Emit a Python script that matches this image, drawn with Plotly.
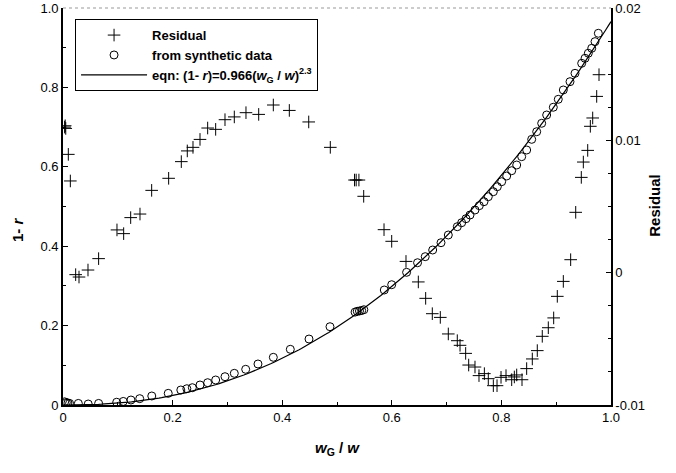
import numpy as np
import plotly.graph_objects as go

# Residual series (right axis)
res_x = [0.003, 0.004, 0.005, 0.0097, 0.0134, 0.0231, 0.0292, 0.0456, 0.065, 0.0985,
         0.1107, 0.1235, 0.1405, 0.1618, 0.1928, 0.2159, 0.2268, 0.2372, 0.25, 0.264,
         0.2786, 0.2956, 0.3126, 0.3339, 0.3571, 0.3838, 0.413, 0.4484, 0.4878, 0.532,
         0.535, 0.540, 0.5487, 0.5858, 0.5998, 0.6259, 0.6484, 0.6618, 0.6739, 0.6885,
         0.7031, 0.7195, 0.7245, 0.7348, 0.7403, 0.7518, 0.7591, 0.7689, 0.7761, 0.7853,
         0.792, 0.7993, 0.8084, 0.8188, 0.8236, 0.8279, 0.8376, 0.8461, 0.8564, 0.8655,
         0.8746, 0.8856, 0.8954, 0.902, 0.913, 0.9264, 0.9356, 0.9458, 0.9495, 0.9575,
         0.9623, 0.9666, 0.9739, 0.9781]
res_y = [0.0110, 0.0111, 0.0109, 0.00894, 0.00693, -0.00015, -0.00033, 0.0002, 0.00106, 0.00323,
         0.00295, 0.00416, 0.00443, 0.00622, 0.00713, 0.00839, 0.0092, 0.00947, 0.01007, 0.01093,
         0.01083, 0.01156, 0.01177, 0.01209, 0.01196, 0.01267, 0.01226, 0.01139, 0.00947, 0.0070,
         0.0070, 0.0070, 0.00577, 0.00325, 0.00237, 0.00085, -0.0007, -0.00194, -0.0031, -0.00338,
         -0.00463, -0.00514, -0.00549, -0.0061, -0.00698, -0.00713, -0.00778, -0.00763, -0.00801, -0.00854,
         -0.00854, -0.00791, -0.00778, -0.00809, -0.00788, -0.00773, -0.00809, -0.00725, -0.00652, -0.00589,
         -0.00481, -0.00416, -0.00342, -0.00179, -0.00066, 0.00098, 0.00456, 0.0072, 0.00836, 0.00924,
         0.01106, 0.01169, 0.01332, 0.01496]

# Synthetic data (left axis)
syn_x = [0.003, 0.006, 0.009, 0.012, 0.028, 0.046, 0.065, 0.098, 0.11, 0.124,
         0.14, 0.162, 0.192, 0.215, 0.226, 0.236, 0.25, 0.264, 0.2786, 0.2956,
         0.3126, 0.3334, 0.3558, 0.3838, 0.4148, 0.4489, 0.4872, 0.533, 0.537, 0.541,
         0.545, 0.549, 0.5863, 0.5998, 0.627, 0.647, 0.661, 0.6746, 0.6898, 0.7031,
         0.7195, 0.7275, 0.7354, 0.7427, 0.7518, 0.7597, 0.7682, 0.7761, 0.7853, 0.7926,
         0.8005, 0.8096, 0.8188, 0.8279, 0.837, 0.8461, 0.8553, 0.8644, 0.8735, 0.8826,
         0.8947, 0.9038, 0.913, 0.9252, 0.9343, 0.9465, 0.9526, 0.9586, 0.9648, 0.9708,
         0.9769]
syn_y = [0.008, 0.006, 0.005, 0.004, 0.004, 0.0025, 0.004, 0.007, 0.009, 0.0126,
         0.016, 0.0227, 0.0294, 0.0378, 0.041, 0.0436, 0.0504, 0.0562, 0.063, 0.0713,
         0.0798, 0.0899, 0.1033, 0.1201, 0.1403, 0.1662, 0.1972, 0.234, 0.236, 0.2368,
         0.238, 0.240, 0.2897, 0.303, 0.3342, 0.3584, 0.3736, 0.3904, 0.4088, 0.4282,
         0.4491, 0.4592, 0.4693, 0.4786, 0.4912, 0.5021, 0.5121, 0.5247, 0.5373, 0.5499,
         0.5625, 0.5768, 0.5902, 0.6045, 0.6255, 0.6423, 0.6692, 0.6884, 0.7096, 0.7305,
         0.75, 0.77, 0.7935, 0.8144, 0.8355, 0.8607, 0.8733, 0.886, 0.8985, 0.9153,
         0.9363]

# Fit equation from the legend: (1-r) = 0.966 (wG/w)^2.3
eqn_coef = 0.966
eqn_exp = 2.3
eqn_x = np.linspace(0, 1, 201)
eqn_y = eqn_coef * eqn_x ** eqn_exp

x_ticks = [0, 0.2, 0.4, 0.6, 0.8, 1.0]
x_tick_labels = ["0", "0.2", "0.4", "0.6", "0.8", "1.0"]
y_ticks = [0, 0.2, 0.4, 0.6, 0.8, 1.0]
y_tick_labels = ["0", "0.2", "0.4", "0.6", "0.8", "1.0"]
y2_ticks = [-0.01, 0, 0.01, 0.02]
y2_tick_labels = ["-0.01", "0", "0.01", "0.02"]

FONT = "Liberation Sans, Arial, sans-serif"

fig = go.Figure()
fig.add_trace(go.Scatter(
    x=res_x, y=res_y, mode="markers", name="Residual", yaxis="y2",
    marker=dict(symbol="cross-thin", size=9, line=dict(color="black", width=1), color="black"),
))
fig.add_trace(go.Scatter(
    x=syn_x, y=syn_y, mode="markers", name="from synthetic data",
    marker=dict(symbol="circle-open", size=8, line=dict(color="black", width=1), color="black"),
))
fig.add_trace(go.Scatter(
    x=eqn_x, y=eqn_y, mode="lines",
    name="eqn: (1- <i>r</i>)=0.966(<i>w</i><sub>G</sub> / <i>w</i>)<sup>2.3</sup>",
    line=dict(color="black", width=1.2),
))

fig.update_layout(
    width=676, height=473,
    margin=dict(l=63, r=65, t=8, b=68),
    paper_bgcolor="white", plot_bgcolor="white",
    font=dict(family=FONT, size=13, color="black"),
    showlegend=True,
    legend=dict(
        x=0.022, y=0.972, xanchor="left", yanchor="top",
        bordercolor="black", borderwidth=1, bgcolor="white",
        font=dict(family=FONT, size=13, color="black", weight="bold"),
        tracegroupgap=0, itemwidth=66,
    ),
    xaxis=dict(
        range=[0, 1], tickvals=x_ticks, ticktext=x_tick_labels,
        ticks="inside", ticklen=5, tickcolor="black",
        minor=dict(dtick=0.1, ticks="inside", ticklen=3, tickcolor="black"),
        showline=True, linecolor="black", linewidth=1.5, mirror=False,
        showgrid=False, zeroline=False, automargin=False,
        ticklabeloverflow="allow",
        tickfont=dict(size=13),
    ),
    yaxis=dict(
        range=[0, 1], tickvals=y_ticks, ticktext=y_tick_labels,
        ticks="inside", ticklen=5, tickcolor="black",
        minor=dict(dtick=0.1, ticks="inside", ticklen=3, tickcolor="black"),
        showline=True, linecolor="black", linewidth=1.8,
        showgrid=False, zeroline=False, automargin=False,
        ticklabeloverflow="allow",
        tickfont=dict(size=13),
    ),
    yaxis2=dict(
        range=[-0.01, 0.02], tickvals=y2_ticks, ticktext=y2_tick_labels,
        overlaying="y", side="right",
        ticks="inside", ticklen=5, tickcolor="black",
        minor=dict(dtick=0.0025, ticks="inside", ticklen=3, tickcolor="black"),
        showline=True, linecolor="black", linewidth=1.5,
        showgrid=False, zeroline=False, automargin=False,
        ticklabeloverflow="allow",
        tickfont=dict(size=13),
    ),
    shapes=[dict(type="line", xref="paper", yref="paper", x0=0, x1=1, y0=1, y1=1,
                 line=dict(color="#999999", width=1, dash="dot"))],
    annotations=[
        dict(text="<b><i>w</i><sub>G</sub> / <i>w</i></b>", xref="paper", yref="paper",
             x=0.5, y=-0.11, showarrow=False, font=dict(size=15), xanchor="center", yanchor="middle"),
        dict(text="<b>1- <i>r</i></b>", xref="paper", yref="paper",
             x=-0.082, y=0.441, showarrow=False, font=dict(size=15), textangle=-90,
             xanchor="center", yanchor="middle"),
        dict(text="<b>Residual</b>", xref="paper", yref="paper",
             x=1.080, y=0.504, showarrow=False, font=dict(size=15), textangle=-90,
             xanchor="center", yanchor="middle"),
    ],
)

fig.write_html("out.html", config={"displayModeBar": False},
               post_script="document.body.style.margin='0';document.body.style.overflow='hidden';")
